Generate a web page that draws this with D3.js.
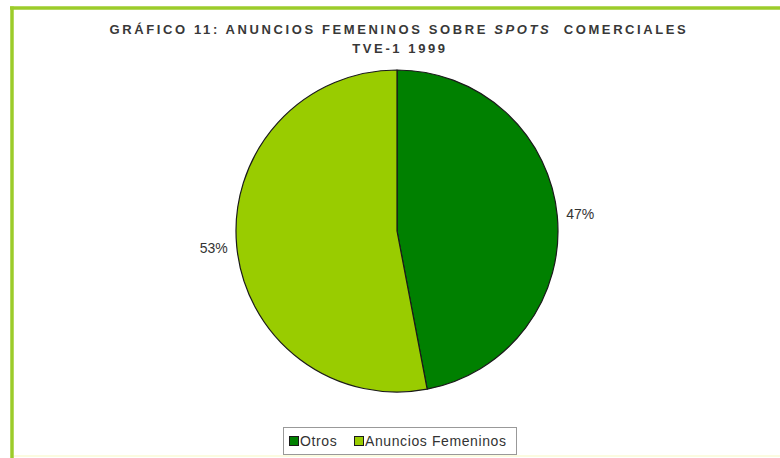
<!DOCTYPE html>
<html>
<head>
<meta charset="utf-8">
<script src="https://cdn.jsdelivr.net/npm/d3@7"></script>
<style>
  html, body { margin: 0; padding: 0; background: #ffffff; }
  svg { display: block; }
</style>
</head>
<body>
<svg id="chart" width="780" height="458"></svg>
<script>
// Share of commercial spots on TVE-1, 1999
const categories = ["Otros", "Anuncios Femeninos"];
const values = [47, 53];
const colors = ["#008000", "#99cc00"];
const titleLines = ["GRÁFICO 11: ANUNCIOS FEMENINOS SOBRE ", "SPOTS", "  COMERCIALES", "TVE-1 1999"];

const svg = d3.select("#chart");
const W = 780, H = 458;
const FONT = "Arial, 'Liberation Sans', sans-serif";

// outer frame: green top and left rules
svg.append("line").attr("x1", 10).attr("x2", W).attr("y1", 8).attr("y2", 8)
  .attr("stroke", "#9ccc2a").attr("stroke-width", 3.5);
svg.append("line").attr("x1", 12).attr("x2", 12).attr("y1", 6.5).attr("y2", H)
  .attr("stroke", "#9ccc2a").attr("stroke-width", 3.5);
svg.append("line").attr("x1", 14).attr("x2", W).attr("y1", 456).attr("y2", 456)
  .attr("stroke", "#fbfbe0").attr("stroke-width", 2);

// title
const title = svg.append("text")
  .attr("x", 399).attr("y", 34)
  .attr("text-anchor", "middle")
  .attr("font-family", FONT)
  .attr("font-weight", "bold")
  .attr("font-size", 13)
  .attr("letter-spacing", 2.6)
  .attr("fill", "#383838")
  .attr("xml:space", "preserve");
title.append("tspan").text(titleLines[0]);
title.append("tspan").attr("font-style", "italic").text(titleLines[1]);
title.append("tspan").text(titleLines[2]);

svg.append("text")
  .attr("x", 400).attr("y", 53)
  .attr("text-anchor", "middle")
  .attr("font-family", FONT)
  .attr("font-weight", "bold")
  .attr("font-size", 13)
  .attr("letter-spacing", 2.6)
  .attr("fill", "#383838")
  .text(titleLines[3]);

// pie
const cx = 397, cy = 231, r = 161;
const data = categories.map((c, i) => ({ name: c, value: values[i], color: colors[i] }));
const pie = d3.pie().value(d => d.value).sort(null);
const arcs = pie(data);
const arc = d3.arc().innerRadius(0).outerRadius(r);
const labelArc = d3.arc().innerRadius(r + 23).outerRadius(r + 23);

const g = svg.append("g").attr("transform", `translate(${cx},${cy})`);
g.selectAll("path.slice").data(arcs).join("path")
  .attr("class", "slice")
  .attr("d", arc)
  .attr("fill", d => d.data.color)
  .attr("stroke", "#1a1a1a")
  .attr("stroke-width", 1.2)
  .attr("stroke-linejoin", "round");

const total = d3.sum(values);
g.selectAll("text.lbl").data(arcs).join("text")
  .attr("class", "lbl")
  .attr("transform", d => `translate(${labelArc.centroid(d)})`)
  .attr("text-anchor", "middle")
  .attr("dy", "0.35em")
  .attr("font-family", FONT)
  .attr("font-size", 14)
  .attr("fill", "#333333")
  .text(d => Math.round(d.data.value / total * 100) + "%");

// legend
const legend = svg.append("g");
legend.append("rect").attr("x", 283.5).attr("y", 427.5).attr("width", 233).attr("height", 27)
  .attr("fill", "#ffffff").attr("stroke", "#999999").attr("stroke-width", 1);
const itemX = [289, 354];
categories.forEach((c, i) => {
  const it = legend.append("g").attr("transform", `translate(${itemX[i]},436)`);
  it.append("rect").attr("x", 0.5).attr("y", 0.5).attr("width", 9).attr("height", 9)
    .attr("fill", colors[i]).attr("stroke", "#1a1a1a").attr("stroke-width", 1);
  it.append("text").attr("x", 11).attr("y", 10)
    .attr("font-family", FONT)
    .attr("font-size", 14)
    .attr("letter-spacing", 0.6)
    .attr("fill", "#333333")
    .text(c);
});
</script>
</body>
</html>
